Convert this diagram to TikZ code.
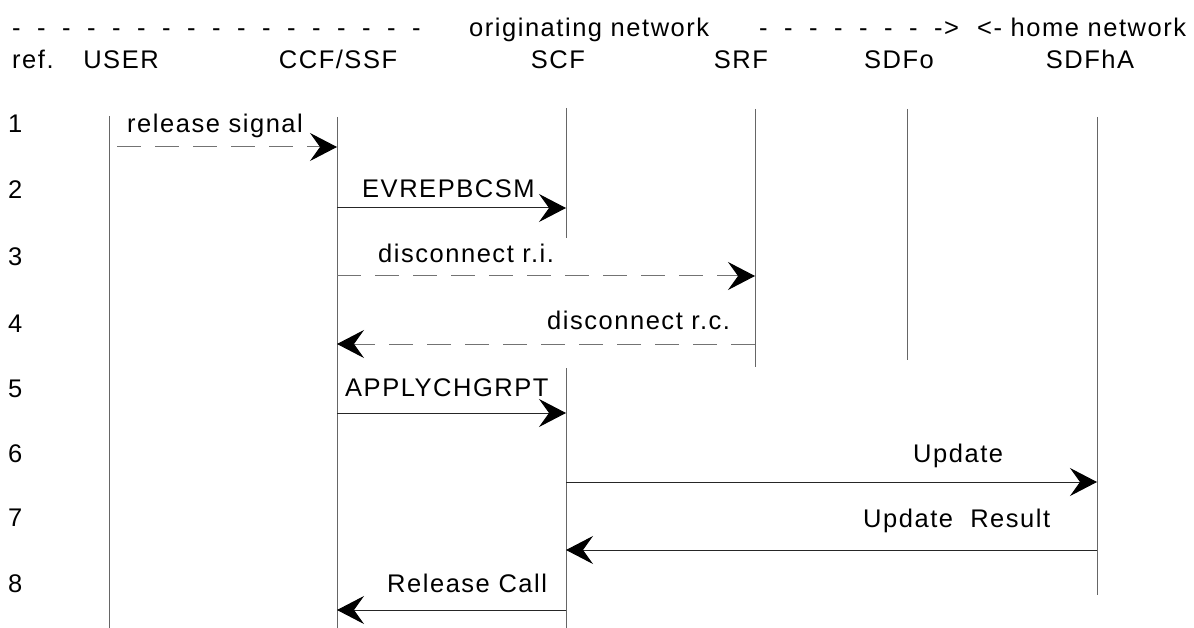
\documentclass[tikz,border=0pt]{standalone}
\usepackage{fontspec}
\setmainfont{Liberation Sans}[LetterSpace=6]
\usetikzlibrary{arrows.meta}

\tikzset{
  lifeline/.style = {draw = black!60, line width = 1pt},
  msg/.style = {draw = black!85, line width = 1pt,
    -{Stealth[length = 27pt, width = 28pt, inset = 10pt, color = black]}},
  asyncmsg/.style = {msg, draw = black!55, dash pattern = on 24pt off 14pt},
  txt/.style = {anchor = base west, inner sep = 0pt, font = \fontsize{25.5}{30}\selectfont},
  head/.style = {txt, anchor = base}
}

\begin{document}
\begin{tikzpicture}[x = 1pt, y = -1pt]
\useasboundingbox (0, 0) rectangle (1194, 628);

\node[txt] (dashL) at (12, 37) {\spaceskip=16.5pt\relax - - - - - - - - - - - - - - - - -};
\node[txt] (orig) at (469, 37) {originating network};
\node[txt] (dashR) at (759, 37) {\spaceskip=16.5pt\relax - - - - - - - ->};
\node[txt] (home) at (977, 37) {<- home network};

\node[txt] (ref) at (12, 69) {ref.};
\node[head] (hUser) at (121, 69) {USER};
\node[head] (hCcf) at (338, 69) {CCF/SSF};
\node[head] (hScf) at (558, 69) {SCF};
\node[head] (hSrf) at (741, 69) {SRF};
\node[head] (hSdfo) at (899, 69) {SDFo};
\node[head] (hSdfha) at (1090, 69) {SDFhA};

\foreach \n/\y in {1/133, 2/199, 3/266, 4/332, 5/397, 6/462, 7/526, 8/592}
  \node[txt] (r\n) at (8, \y) {\n};

\draw[lifeline] (109, 116) -- (109, 628);
\draw[lifeline] (337, 117) -- (337, 628);
\draw[lifeline] (566, 108) -- (566, 238);
\draw[lifeline] (566, 368) -- (566, 628);
\draw[lifeline] (755, 109) -- (755, 367);
\draw[lifeline] (907, 109) -- (907, 360);
\draw[lifeline] (1097, 117) -- (1097, 595);

\coordinate (user) at (109, 0);
\coordinate (ccf) at (337, 0);
\coordinate (scf) at (566, 0);
\coordinate (srf) at (755, 0);
\coordinate (sdfha) at (1097, 0);
\foreach \n/\y in {1/147, 2/208, 3/276, 4/344, 5/413, 6/482, 7/550, 8/610}
  \coordinate (m\n) at (0, \y);

\draw[asyncmsg] ([xshift = 8pt]user |- m1) -- (ccf |- m1);
\draw[msg] (ccf |- m2) -- (scf |- m2);
\draw[asyncmsg] (ccf |- m3) -- (srf |- m3);
\draw[asyncmsg] (srf |- m4) -- (ccf |- m4);
\draw[msg] (ccf |- m5) -- (scf |- m5);
\draw[msg] (scf |- m6) -- (sdfha |- m6);
\draw[msg] (sdfha |- m7) -- (scf |- m7);
\draw[msg] (scf |- m8) -- (ccf |- m8);

\node[txt] (l1) at (127, 133) {release signal};
\node[txt] (l2) at (362, 198) {EVREPBCSM};
\node[txt] (l3) at (378, 263) {disconnect r.i.};
\node[txt] (l4) at (547, 330) {disconnect r.c.};
\node[txt] (l5) at (345, 396) {APPLYCHGRPT};
\node[txt] (l6) at (913, 462) {Update};
\node[txt] (l7) at (863, 527) {Update\ \ Result};
\node[txt] (l8) at (387, 592) {Release Call};
\end{tikzpicture}
\end{document}
